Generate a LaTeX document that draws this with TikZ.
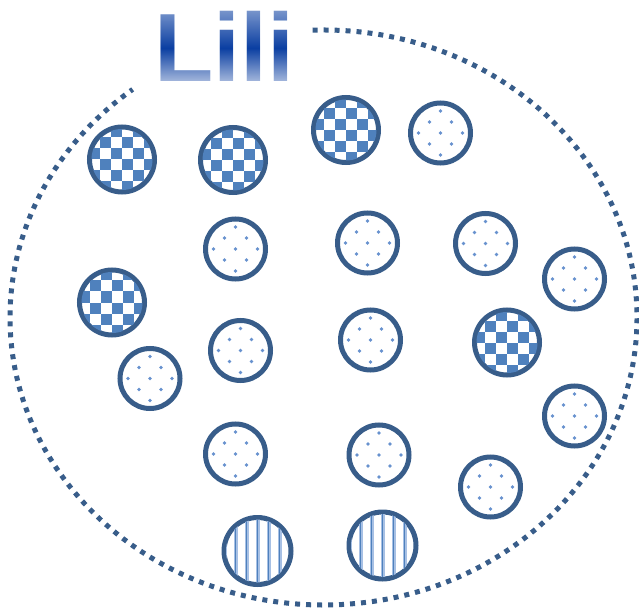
\documentclass[tikz,border=0pt]{standalone}
\usepackage{fontspec}

\newfontfamily\lilifont{Liberation Sans}
\newcommand{\lilititle}{\lilifont\bfseries\fontsize{97}{100}\selectfont}

\definecolor{lililine}{HTML}{385D8A}
\definecolor{lilifill}{HTML}{4F81BD}
\definecolor{lilidot}{HTML}{6791CE}
\definecolor{lilistripe}{HTML}{A7C0E4}
\definecolor{lilimid}{HTML}{0B3FA2}

\begin{document}
\begin{tikzpicture}[x=1pt,y=-1pt]
                    \tikzset{
                        ball/.style={draw=lililine, circle, line width=5pt, inner sep=0pt},
                        checker/.style={ball, minimum size=65pt},
                        dotty/.style={ball, minimum size=60pt},
                        stripy/.style={ball, minimum size=67pt},
                        rim/.style={draw=lililine, line width=5pt, dash pattern=on 5pt off 6pt}
                    }
                    \useasboundingbox (0,0) rectangle (639,609);

                    \coordinate (mid) at (323.5,317.5);
                    \draw[rim] (mid) ++(-92:313.5 and 287.5) arc[start angle=-92, end angle=232.5, x radius=313.5, y radius=287.5];

                    % title, lighter towards top and bottom
                    \draw node[font=\lilititle, text=lilimid, inner sep=0pt, anchor=base west] (title) at (154,82) {Lili};
                    \foreach \k in {10,...,83}{
                    \pgfmathsetmacro\t{(\k-10)/73}
                    \pgfmathsetmacro\a{\t<0.52 ? 0.45*(1-\t/0.52) : 0.66*(\t-0.52)/0.48}
                    \fill[white, fill opacity=\a] (150,\k) rectangle (300,\k+1);
                    }

                    \draw node[checker] (k1) at (122,159.5) {};
                    \draw node[checker] (k2) at (233,160) {};
                    \draw node[checker] (k3) at (346,130) {};
                    \draw node[checker] (k4) at (112,302.5) {};
                    \draw node[checker] (k5) at (507,342.5) {};

                    \draw node[dotty] (d1) at (440.5,133) {};
                    \draw node[dotty] (d2) at (235.5,249) {};
                    \draw node[dotty] (d3) at (367.5,243) {};
                    \draw node[dotty] (d4) at (485.5,243.5) {};
                    \draw node[dotty] (d5) at (574.5,279) {};
                    \draw node[dotty] (d6) at (150,378.5) {};
                    \draw node[dotty] (d7) at (240.5,350.5) {};
                    \draw node[dotty] (d8) at (370.5,340) {};
                    \draw node[dotty] (d9) at (574.5,416) {};
                    \draw node[dotty] (d10) at (235.5,454) {};
                    \draw node[dotty] (d11) at (379,455) {};
                    \draw node[dotty] (d12) at (490.5,487) {};

                    \draw node[stripy] (s1) at (257.5,551) {};
                    \draw node[stripy] (s2) at (382.5,545.5) {};

                    % fillings
                    \foreach \c in {k1,k2,k3,k4,k5}{
                    \begin{scope}
                    \clip (\c) circle (30.5);
                    \foreach \i in {-3,...,2}{
                    \foreach \j in {-3,...,2}{
                    \pgfmathtruncatemacro\odd{mod(\i+\j+6,2)}
                    \ifnum\odd=0 \fill[lilifill] ([shift={(\i*11,\j*11)}]\c.center) rectangle ++(11,11); \fi
                    }}
                    \end{scope}
                    }
                    \foreach \c in {d1,d2,d3,d4,d5,d6,d7,d8,d9,d10,d11,d12}{
                    \begin{scope}
                    \clip (\c) circle (28);
                    \foreach \i in {-3,...,3}{
                    \foreach \j in {-3,...,3}{
                    \pgfmathtruncatemacro\odd{mod(\i+\j+6,2)}
                    \ifnum\odd=0 \fill[lilidot] ([shift={(\i*11,\j*11)}]\c.center) circle (1.9); \fi
                    }}
                    \end{scope}
                    }
                    \foreach \c in {s1,s2}{
                    \begin{scope}
                    \clip (\c) circle (31.5);
                    \foreach \i in {-3,...,3}{
                    \fill[lilistripe] ([shift={(\i*11-2,-40)}]\c.center) rectangle ++(4,80);
                    \fill[lilifill] ([shift={(\i*11-0.8,-40)}]\c.center) rectangle ++(1.6,80);
                    }
                    \end{scope}
                    }
                    \end{tikzpicture}
\end{document}
